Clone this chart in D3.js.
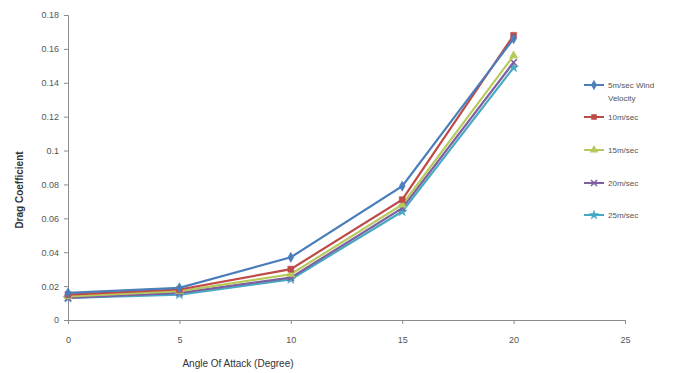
<!DOCTYPE html>
<html>
<head>
<meta charset="utf-8">
<script src="https://cdn.jsdelivr.net/npm/d3@7"></script>
<style>
body{margin:0;background:#fff;}
text{font-family:"Liberation Sans",Arial,sans-serif;}
</style>
</head>
<body>
<div id="chart"></div>
<script>
let chart_width = 673;
let chart_height = 373;

let angles = [0,5,10,15,20];
let series_names = ['5m/sec Wind Velocity','10m/sec','15m/sec','20m/sec','25m/sec'];
let v5 = [0.016,0.019,0.037,0.079,0.166];
let v10 = [0.015,0.018,0.030,0.071,0.168];
let v15 = [0.014,0.017,0.027,0.068,0.156];
let v20 = [0.013,0.016,0.025,0.066,0.152];
let v25 = [0.013,0.015,0.024,0.064,0.149];
let y_ticks = [0,0.02,0.04,0.06,0.08,0.1,0.12,0.14,0.16,0.18];
let y_tick_labels = ['0','0.02','0.04','0.06','0.08','0.1','0.12','0.14','0.16','0.18'];
let x_ticks = [0,5,10,15,20,25];

let colors = ['#4a7ebb','#be4b48','#b8c95c','#7d60a0','#46aac5'];
let shapes = ['diamond','square','triangle','cross','star'];
let all_values = [v5,v10,v15,v20,v25];

const xScale = d3.scaleLinear().domain([0,25]).range([68,625]);
const yScale = d3.scaleLinear().domain([0,0.18]).range([320,15]);

let svg = d3.select('#chart')
    .append('svg')
    .attr('width',chart_width)
    .attr('height',chart_height);

// axes
let yAxis = svg.append('g')
    .attr('transform','translate(68,0)')
    .call(d3.axisLeft(yScale).tickValues(y_ticks).tickSize(4).tickFormat((d,i)=>y_tick_labels[i]));
let xAxis = svg.append('g')
    .attr('transform','translate(0,320)')
    .call(d3.axisBottom(xScale).tickValues(x_ticks).tickSize(4).tickFormat(d=>d));

[yAxis,xAxis].forEach(function(ax){
    ax.select('.domain').attr('stroke','#8c8c8c');
    ax.selectAll('.tick line').attr('stroke','#8c8c8c');
    ax.selectAll('.tick text')
        .attr('fill','#555')
        .style('font-size','9px');
});
yAxis.selectAll('.tick text').attr('x',-9);
xAxis.selectAll('.tick text').attr('y',17);

svg.append('text')
    .text('Drag Coefficient')
    .attr('transform','translate(23,190) rotate(-90)')
    .attr('text-anchor','middle')
    .style('font-size','10px')
    .style('font-weight','bold')
    .attr('fill','#333');

svg.append('text')
    .text('Angle Of Attack (Degree)')
    .attr('x',238)
    .attr('y',367)
    .attr('text-anchor','middle')
    .style('font-size','10px')
    .attr('fill','#333');

function symbolFor(shape,size){
    let types = {'diamond':d3.symbolDiamond,'square':d3.symbolSquare,'triangle':d3.symbolTriangle,
        'cross':d3.symbolTimes,'star':d3.symbolStar};
    return d3.symbol().type(types[shape]).size(size)();
}

let line = d3.line()
    .x(d=>xScale(d.x))
    .y(d=>yScale(d.y));

// draw back to front so first series ends on top as in excel
for(let s=all_values.length-1;s>=0;s--){
    let data = angles.map((a,i)=>({'x':a,'y':all_values[s][i]}));
    let g = svg.append('g').attr('class','series'+s);
    g.append('path')
        .datum(data)
        .attr('d',line)
        .attr('fill','none')
        .attr('stroke',colors[s])
        .attr('stroke-width',2.2);
    g.selectAll('path.marker')
        .data(data)
        .enter()
        .append('path')
        .attr('class','marker')
        .attr('d',symbolFor(shapes[s],s===1?36:30))
        .attr('transform',d=>'translate('+xScale(d.x)+','+yScale(d.y)+')')
        .attr('fill',shapes[s]==='cross'?'none':colors[s])
        .attr('stroke',colors[s])
        .attr('stroke-width',shapes[s]==='cross'?1.5:0.5);
}

// legend
let legend_y = [85,117,150,183,215];
let legend = svg.append('g');
series_names.forEach(function(name,i){
    let g = legend.append('g').attr('transform','translate(584,'+legend_y[i]+')');
    g.append('line')
        .attr('x1',0).attr('x2',20)
        .attr('y1',0).attr('y2',0)
        .attr('stroke',colors[i])
        .attr('stroke-width',2);
    g.append('path')
        .attr('d',symbolFor(shapes[i],26))
        .attr('transform','translate(10,0)')
        .attr('fill',shapes[i]==='cross'?'none':colors[i])
        .attr('stroke',colors[i])
        .attr('stroke-width',shapes[i]==='cross'?1.5:0.5);
    let t = g.append('text')
        .attr('x',24)
        .attr('y',3)
        .attr('fill','#555')
        .style('font-size','8px');
    if(i===0){
        t.append('tspan').attr('x',24).text('5m/sec Wind');
        t.append('tspan').attr('x',24).attr('dy',13).text('Velocity');
    }
    else{
        t.text(name);
    }
});
</script>
</body>
</html>
